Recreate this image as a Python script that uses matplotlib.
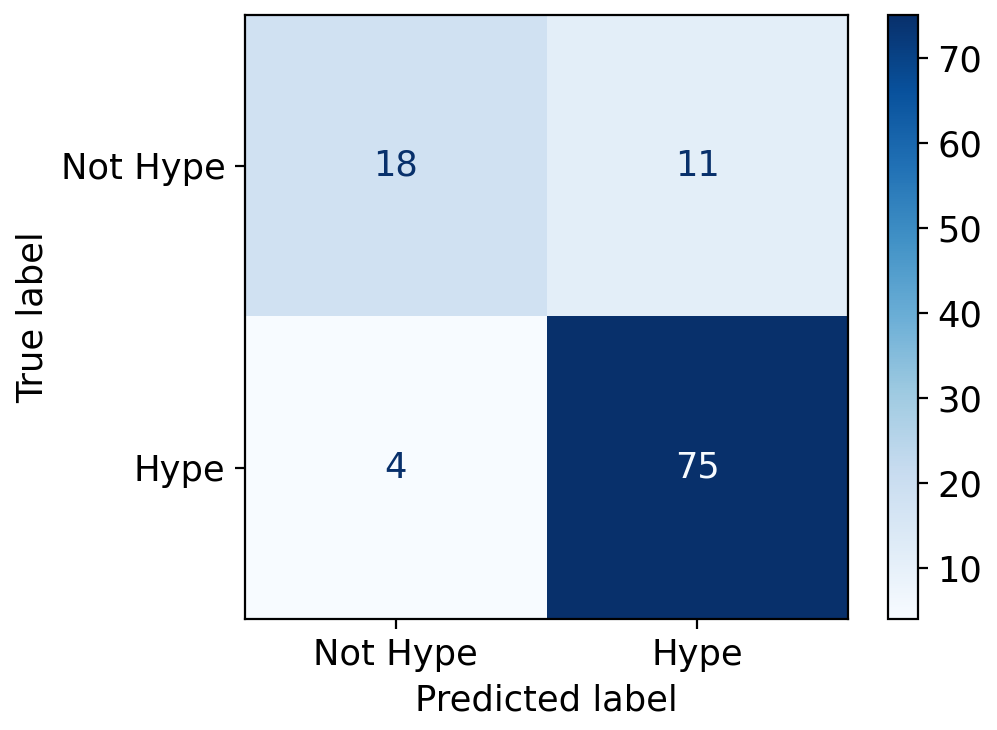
import numpy as np
import matplotlib
matplotlib.use("Agg")
import matplotlib.pyplot as plt

CLASS_LABELS = ["Not Hype", "Hype"]
MATRIX = [[18, 11],
          [4, 75]]

def main():
    cm = np.array(MATRIX)
    plt.rcParams["font.size"] = 12.7

    fig = plt.figure(figsize=(4.985, 3.65), dpi=200)
    ax = fig.add_axes([245 / 997, 1 - 619 / 730, 603 / 997, 604 / 730])
    cax = fig.add_axes([888 / 997, 1 - 619 / 730, 30 / 997, 604 / 730])

    cmap = plt.get_cmap("Blues")
    im = ax.imshow(cm, interpolation="nearest", cmap=cmap, aspect="auto")
    fig.colorbar(im, cax=cax)

    thresh = (cm.max() + cm.min()) / 2.0
    for i in range(cm.shape[0]):
        for j in range(cm.shape[1]):
            color = cmap(0) if cm[i, j] >= thresh else cmap(1.0)
            ax.text(j, i, str(cm[i, j]), ha="center", va="center", color=color)

    ax.set_xticks(range(len(CLASS_LABELS)))
    ax.set_xticklabels(CLASS_LABELS)
    ax.set_yticks(range(len(CLASS_LABELS)))
    ax.set_yticklabels(CLASS_LABELS)
    ax.set_xlabel("Predicted label")
    ax.set_ylabel("True label")

    fig.savefig("out.png", dpi=200)

if __name__ == "__main__":
    main()
